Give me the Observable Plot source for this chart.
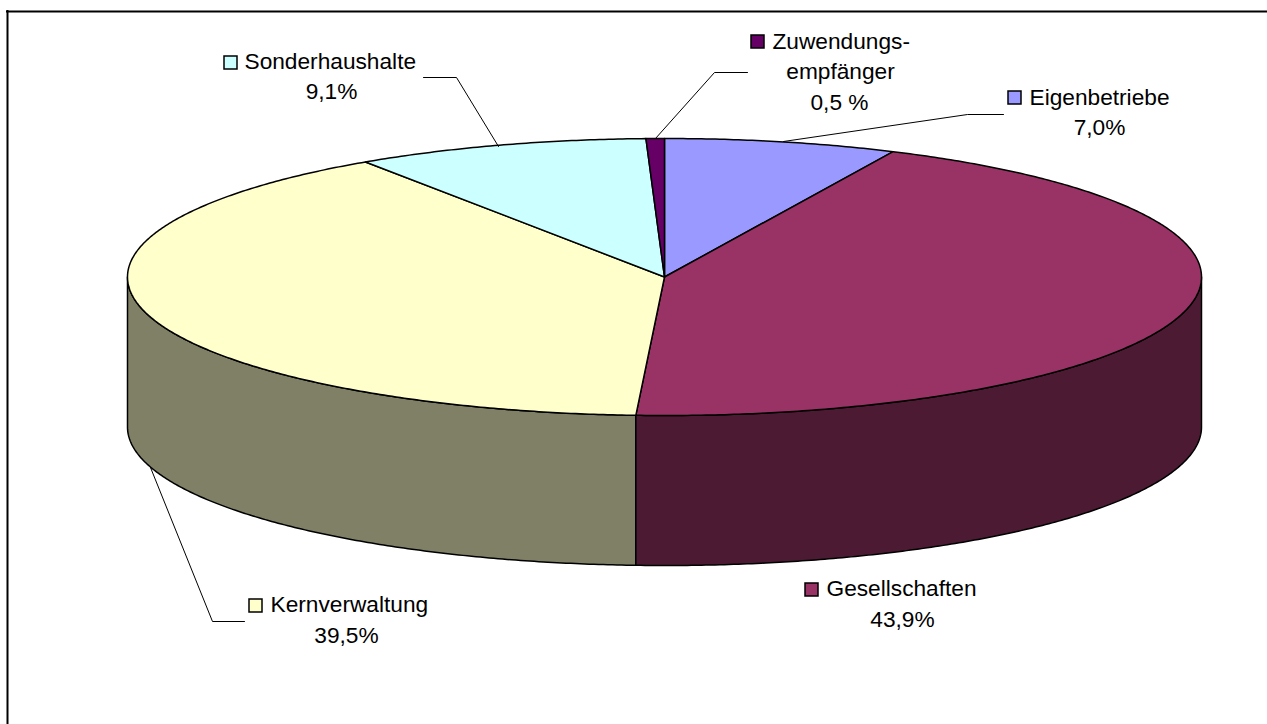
<!DOCTYPE html>
<html>
<head>
<meta charset="utf-8">
<style>html,body{margin:0;padding:0;background:#fff}svg{display:block}</style>
<script src="https://cdn.jsdelivr.net/npm/d3@7"></script>
<script src="https://cdn.jsdelivr.net/npm/@observablehq/plot@0.6"></script>
</head>
<body>
<div id="chart"></div>
<script>
// Slices in drawing order, clockwise from 12 o'clock (sizes as drawn in the picture)
const categories = ["Eigenbetriebe", "Gesellschaften", "Kernverwaltung", "Sonderhaushalte", "Zuwendungsempfänger"];
const shares = [7.0, 43.85, 39.75, 8.85, 0.55];
const topColors = ["#9999FF", "#993366", "#FFFFCC", "#CCFFFF", "#660066"];
const sideColors = ["#4D4D80", "#4D1A33", "#808066", "#668080", "#330033"];

// Label texts and positions
const labelNames = ["Sonderhaushalte", "Zuwendungs-", "Eigenbetriebe", "Kernverwaltung", "Gesellschaften"];
const labelNameX = [244, 772, 1029, 270, 826];
const labelNameY = [61, 41, 97, 604, 588];
const keyColors = ["#CCFFFF", "#660066", "#9999FF", "#FFFFCC", "#993366"];
const keyX = [224, 751, 1008, 249, 805];
const keyY = [56, 35, 91, 599, 583];
const valueLabels = ["9,1%", "empfänger", "0,5 %", "7,0%", "39,5%", "43,9%"];
const valueX = [331, 840, 839, 1099, 346, 902];
const valueY = [91, 71, 102, 127, 635, 619];

const leaderA = [[423, 77], [456, 77], [498, 146]];
const leaderB = [[747, 72], [714, 72], [655, 138]];
const leaderC = [[1003, 114], [967, 114], [783, 141]];
const leaderD = [[244, 621], [212, 621], [150, 467]];

// Pie geometry
const cx = 664, cy = 276.5, rx = 537, ry = 138.5, depth = 150;
const rim = (t, dy = 0) => {
  const a = t * Math.PI / 180;
  return [cx + rx * Math.sin(a), cy - ry * Math.cos(a) + dy];
};
const arc = (a, b, dy = 0) => {
  const n = Math.max(2, Math.ceil(Math.abs(b - a) * 2));
  return d3.range(n + 1).map(i => rim(a + (b - a) * i / n, dy));
};
const total = d3.sum(shares);
let acc = 0;
const slices = shares.map((v, i) => {
  const a = acc / total * 360;
  acc += v;
  return {name: categories[i], a, b: acc / total * 360, top: topColors[i], side: sideColors[i]};
});
const wedge = s => [[cx, cy], ...arc(s.a, s.b), [cx, cy]];
const wall = (s, a, b) => {
  const upper = arc(a, b);
  const lower = arc(b, a, depth);
  return [...upper, ...lower, upper[0]];
};
const ges = slices[1], kern = slices[2];

const lineOpts = {x: d => d[0], y: d => d[1], curve: "linear"};
const edge = {stroke: "#000", strokeWidth: 1.5, strokeLinejoin: "round"};
const leader = pts => Plot.line(pts, {...lineOpts, stroke: "#000", strokeWidth: 1});
const font = {fontFamily: "Liberation Sans", fontSize: 22.7, fill: "#000", lineAnchor: "middle"};

const chart = Plot.plot({
  width: 1267,
  height: 724,
  margin: 0,
  style: {background: "#fff"},
  x: {domain: [0, 1267], range: [0, 1267], axis: null},
  y: {domain: [0, 724], range: [0, 724], axis: null},
  marks: [
    Plot.ruleX([7], {y1: 10, y2: 724, stroke: "#000", strokeWidth: 2}),
    Plot.ruleY([11], {x1: 6, x2: 1267, stroke: "#000", strokeWidth: 2}),
    // side walls: only the part of the rim in front (90°–270°) shows
    Plot.line(wall(kern, kern.a, 270), {...lineOpts, ...edge, fill: kern.side}),
    Plot.line(wall(ges, 90, ges.b), {...lineOpts, ...edge, fill: ges.side}),
    // top face
    ...slices.map(s => Plot.line(wedge(s), {...lineOpts, ...edge, fill: s.top})),
    // leaders
    leader(leaderA), leader(leaderB), leader(leaderC), leader(leaderD),
    // legend keys
    Plot.rect(keyColors, {
      x1: (d, i) => keyX[i], x2: (d, i) => keyX[i] + 13,
      y1: (d, i) => keyY[i], y2: (d, i) => keyY[i] + 13,
      fill: d => d, stroke: "#000", strokeWidth: 1.5
    }),
    // labels
    Plot.text(labelNames, {x: (d, i) => labelNameX[i], y: (d, i) => labelNameY[i], text: d => d, textAnchor: "start", ...font}),
    Plot.text(valueLabels, {x: (d, i) => valueX[i], y: (d, i) => valueY[i], text: d => d, textAnchor: "middle", ...font})
  ]
});
document.getElementById("chart").append(chart);
</script>
</body>
</html>
